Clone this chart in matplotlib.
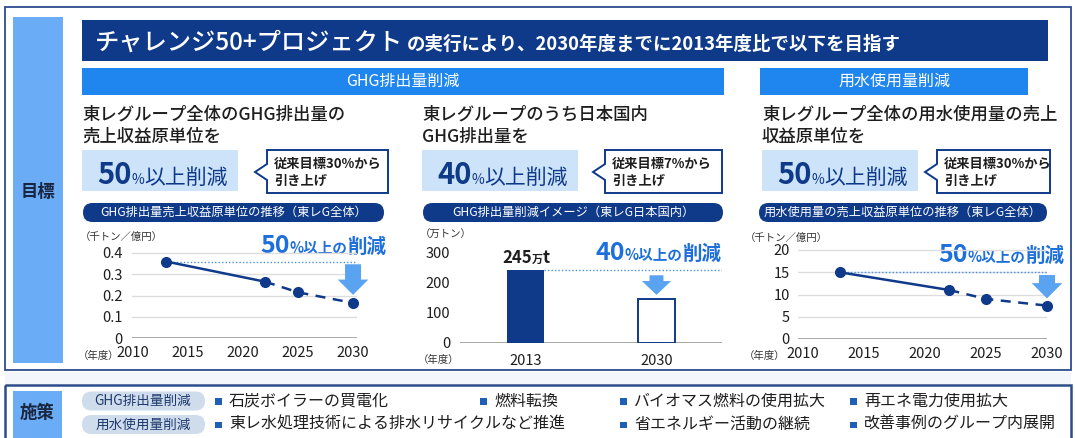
import matplotlib
matplotlib.use("Agg")
import matplotlib.pyplot as plt
from matplotlib.patches import Rectangle, FancyBboxPatch, Polygon

plt.rcParams['font.family'] = ['Noto Sans CJK JP', 'DejaVu Sans']

# ------------------------------------------------------------------
# data
# ------------------------------------------------------------------
ghg_years = [2013, 2022, 2025, 2030]
ghg_intensity = [0.36, 0.265, 0.215, 0.165]
ghg_yticks = [0, 0.1, 0.2, 0.3, 0.4]
ghg_ytick_labels = ['0', '0.1', '0.2', '0.3', '0.4']

jp_years = ['2013', '2030']
jp_emission = [245, 147]
jp_yticks = [0, 100, 200, 300]

water_years = [2013, 2022, 2025, 2030]
water_intensity = [15.0, 11.0, 9.0, 7.5]
water_yticks = [0, 5, 10, 15, 20]

year_ticks = [2010, 2015, 2020, 2025, 2030]
n_actual = 2  # 実績の点数（以降は破線で目標）

NAVY = '#0f3a8a'
BLUE = '#1f86f0'
LIGHT = '#cde3f9'
SIDE = '#6aacf5'
ARROW = '#5aa3f0'
TXT_BLUE = '#1d6fdc'

W, H = 1075, 438
fig = plt.figure(figsize=(W / 100, H / 100), dpi=100)
fig.patch.set_facecolor('white')

bg = fig.add_axes([0, 0, 1, 1])
bg.set_xlim(0, W)
bg.set_ylim(H, 0)
bg.axis('off')
renderer = fig.canvas.get_renderer()


def chain(x, y, parts, gap=1):
    # 大きさの違う文字をベースラインを揃えて横に並べる
    for s, size, kw in parts:
        t = bg.text(x, y, s, fontsize=size, va='baseline', ha='left', **kw)
        x = t.get_window_extent(renderer).x1 + gap
    return x


def px_axes(x0, y0, x1, y1):
    return fig.add_axes([x0 / W, 1 - y1 / H, (x1 - x0) / W, (y1 - y0) / H])


# ------------------------------------------------------------------
# 枠と見出し
# ------------------------------------------------------------------
bg.add_patch(Rectangle((5, 7), 1066, 363, fill=False, ec='#2c4c8c', lw=1.3))
bg.add_patch(Rectangle((5, 372), 1066, 12, color='#f3f6fa', lw=0))
bg.add_patch(Rectangle((5, 385), 1066, 60, fill=False, ec='#2c4c8c', lw=1.8))
bg.add_patch(Rectangle((13, 17), 50, 346, color=SIDE, lw=0))
bg.add_patch(Rectangle((13, 391), 49, 47, color=SIDE, lw=0))
bg.text(38, 192, '目標', fontsize=12.5, weight='bold', ha='center', va='center', color='#1a2640')
bg.text(37, 413, '施策', fontsize=12.5, weight='bold', ha='center', va='center', color='#1a2640')

bg.add_patch(Rectangle((82, 20), 966, 41, color=NAVY, lw=0))
chain(95, 50, [('チャレンジ50+プロジェクト', 17.5, dict(color='white', weight='medium')),
               ('の実行により、2030年度までに2013年度比で以下を目指す', 13.3,
                dict(color='white', weight='bold'))], gap=4)

bg.add_patch(Rectangle((82, 68), 642, 27, color=BLUE, lw=0))
bg.add_patch(Rectangle((760, 68), 268, 27, color=BLUE, lw=0))
bg.text(403, 81.5, 'GHG排出量削減', fontsize=11.5, color='white', ha='center', va='center')
bg.text(894, 81.5, '用水使用量削減', fontsize=11.5, color='white', ha='center', va='center')

headings = ['東レグループ全体のGHG排出量の\n売上収益原単位を',
            '東レグループのうち日本国内\nGHG排出量を',
            '東レグループ全体の用水使用量の売上\n収益原単位を']
targets = ['50', '40', '50']
old_targets = ['従来目標30%から', '従来目標7%から', '従来目標30%から']
pills = ['GHG排出量売上収益原単位の推移（東レG全体）',
         'GHG排出量削減イメージ（東レG日本国内）',
         '用水使用量の売上収益原単位の推移（東レG全体）']
col_x = [82, 422, 762]
call_x = [(267, 388), (605, 722), (937, 1050)]
pill_x = [(82, 385), (422, 724), (758, 1048)]

for i in range(3):
    x = col_x[i]
    bg.text(x, 126, headings[i], fontsize=12.5, color='#1e1e1e', va='center',
            ha='left', linespacing=1.3, weight='medium')
    bg.add_patch(Rectangle((x, 150), 156, 41, color=LIGHT, lw=0))
    chain(x + 15, 184, [(targets[i], 21, dict(color=NAVY, weight='bold')),
                        ('%', 10, dict(color=NAVY)),
                        ('以上削減', 15, dict(color=NAVY))], gap=0)
    cx0, cx1 = call_x[i]
    bg.add_patch(Polygon([(cx0, 150), (cx1, 150), (cx1, 193), (cx0, 193),
                          (cx0, 180), (cx0 - 12, 172), (cx0, 164)],
                         closed=True, fc='white', ec=NAVY, lw=1.4))
    bg.text(cx0 + 7, 164, old_targets[i], fontsize=9.5, weight='bold', color='#1e1e1e', va='center')
    bg.text(cx0 + 7, 181, '引き上げ', fontsize=9.5, weight='bold', color='#1e1e1e', va='center')
    px0, px1 = pill_x[i]
    bg.add_patch(FancyBboxPatch((px0 + 1, 203), px1 - px0 - 2, 19,
                                boxstyle='round,pad=0,rounding_size=9.5',
                                fc=NAVY, ec='none'))
    bg.text((px0 + px1) / 2, 212.5, pills[i], fontsize=8.8, color='white',
            ha='center', va='center')

# ------------------------------------------------------------------
# 折れ線グラフ（GHG原単位・用水原単位）
# ------------------------------------------------------------------
def line_chart(ax, years, vals, yticks, ylabels, ylim, xlim, ypad, arrow_gap):
    ax.set_xlim(*xlim)
    ax.set_ylim(*ylim)
    for s in ax.spines.values():
        s.set_visible(False)
    ax.patch.set_alpha(0)
    for v in yticks:
        ax.axhline(v, color='#9a9a9a' if v == 0 else '#dddddd', lw=1.2 if v == 0 else 1, zorder=0)
    ax.set_yticks(yticks)
    ax.set_yticklabels(ylabels)
    ax.set_xticks(year_ticks)
    ax.set_xticklabels([str(y) for y in year_ticks])
    ax.tick_params(axis='y', length=0, pad=ypad, labelsize=10.5, labelcolor='#1e1e1e')
    ax.tick_params(axis='x', length=0, pad=6, labelsize=10.5, labelcolor='#1e1e1e')
    ax.plot(years[:n_actual], vals[:n_actual], color=NAVY, lw=1.8, zorder=3, clip_on=False)
    ax.plot(years[n_actual - 1:], vals[n_actual - 1:], color=NAVY, lw=1.8, ls=(0, (4, 3)),
            zorder=3, clip_on=False)
    ax.plot(years, vals, 'o', color=NAVY, ms=7, zorder=4, clip_on=False)
    ax.plot([years[0], xlim[1]], [vals[0], vals[0]], color='#4a90e2', lw=1, ls=(0, (1, 1.5)),
            zorder=2, clip_on=False)
    ax.annotate('', xy=(years[-1], vals[-1] + arrow_gap), xytext=(years[-1], vals[0]),
                arrowprops=dict(arrowstyle='simple,head_width=2.2,head_length=1.1,tail_width=1.15',
                                color=ARROW, lw=0, mutation_scale=10), zorder=3)


ax1 = px_axes(132, 338 - 0.44 * 212.5, 357, 338)
line_chart(ax1, ghg_years, ghg_intensity, ghg_yticks, ghg_ytick_labels,
           (0, 0.44), (2009.9, 2030.36), 7, 0.025)

ax3 = px_axes(798, 339 - 22 * 4.45, 1047, 339)
line_chart(ax3, water_years, water_intensity, water_yticks, [str(v) for v in water_yticks],
           (0, 22), (2009.59, 2030), 6, 1.0)

# ------------------------------------------------------------------
# 棒グラフ（日本国内GHG排出量）
# ------------------------------------------------------------------
ax2 = px_axes(460, 343 - 330 * 0.3, 722, 343)
ax2.set_xlim(-0.5, 1.5)
ax2.set_ylim(0, 330)
for s in ax2.spines.values():
    s.set_visible(False)
ax2.patch.set_alpha(0)
ax2.axhline(0, color='#9a9a9a', lw=1.2, zorder=0)
ax2.bar([0], jp_emission[:1], width=0.275, color=NAVY, zorder=2)
ax2.bar([1], jp_emission[1:], width=0.275, color='white', ec=NAVY, lw=1.4, zorder=2)
ax2.set_yticks(jp_yticks)
ax2.set_yticklabels([str(v) for v in jp_yticks])
ax2.set_xticks([0, 1])
ax2.set_xticklabels(jp_years)
ax2.tick_params(axis='y', length=0, pad=7, labelsize=10.5, labelcolor='#1e1e1e')
ax2.tick_params(axis='x', length=0, pad=8, labelsize=10.5, labelcolor='#1e1e1e')
ax2.plot([0.1375, 1.5], [jp_emission[0]] * 2, color='#4a90e2', lw=1, ls=(0, (1, 1.5)), zorder=1)
ax2.annotate('', xy=(1, jp_emission[1] + 4), xytext=(1, jp_emission[0] - 10),
             arrowprops=dict(arrowstyle='simple,head_width=2.1,head_length=1.0,tail_width=1.0',
                             color=ARROW, lw=0, mutation_scale=10), zorder=3)

# 単位・注記
unit_kw = dict(fontsize=7.5, color='#333333', va='center', ha='left')
bg.text(80, 237, '（千トン／億円）', **unit_kw)
bg.text(420, 235, '（万トン）', **unit_kw)
bg.text(745, 238, '（千トン／億円）', **unit_kw)
bg.text(78, 356, '（年度）', **unit_kw)
bg.text(418, 360, '（年度）', **unit_kw)
bg.text(744, 356, '（年度）', **unit_kw)

chain(502, 263, [(str(jp_emission[0]), 12, dict(weight='bold', color='#1e1e1e')),
                 ('万', 8, dict(weight='bold', color='#1e1e1e')),
                 ('t', 12, dict(weight='bold', color='#1e1e1e'))], gap=0)

for x, y, pct in [(260, 253, '50'), (595, 260, '40'), (938, 262, '50')]:
    chain(x, y, [(pct, 18, dict(color=TXT_BLUE, weight='bold')),
                 ('%以上の', 10.5, dict(color=TXT_BLUE, weight='bold')),
                 ('削減', 14, dict(color=TXT_BLUE, weight='bold'))], gap=0)

# ------------------------------------------------------------------
# 施策
# ------------------------------------------------------------------
measure_tags = ['GHG排出量削減', '用水使用量削減']
measures_ghg = ['石炭ボイラーの買電化', '燃料転換', 'バイオマス燃料の使用拡大', '再エネ電力使用拡大']
measures_water = ['東レ水処理技術による排水リサイクルなど推進', '省エネルギー活動の継続',
                  '改善事例のグループ内展開']
ghg_item_x = [218, 483, 623, 853]
water_item_x = [218, 623, 853]

for row, (tag, items, xs) in enumerate([(measure_tags[0], measures_ghg, ghg_item_x),
                                        (measure_tags[1], measures_water, water_item_x)]):
    yc = 401 + row * 23.5
    bg.add_patch(FancyBboxPatch((82, yc - 9.5), 123, 19, boxstyle='round,pad=0,rounding_size=9.5',
                                fc='#cfdcec', ec='none'))
    bg.text(143, yc, tag, fontsize=9.8, color='#1f3a6e', ha='center', va='center')
    for x, s in zip(xs, items):
        bg.add_patch(Rectangle((x - 3, yc - 3), 6.5, 6.5, color='#1f5fb5', lw=0))
        bg.text(x + 11, yc, s, fontsize=11.5, color='#1e1e1e', va='center', ha='left')

fig.savefig('out.png', dpi=100)
